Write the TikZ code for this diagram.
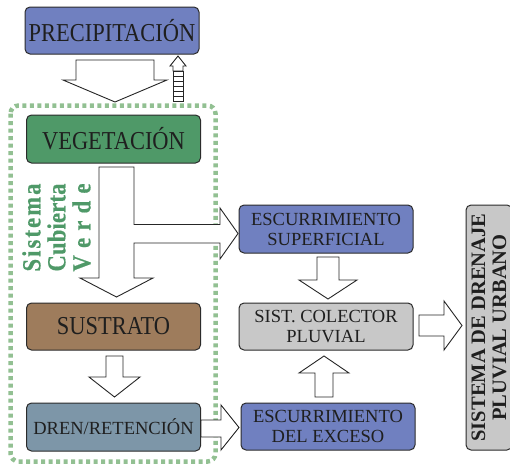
\documentclass[tikz,border=0pt]{standalone}
\usepackage{fontspec}
\setmainfont{Liberation Serif}
\newfontfamily\tallserif{Liberation Serif}[FakeStretch=0.87]
\newfontfamily\cvserif{Liberation Serif}[FakeStretch=0.87,FakeBold=0.6]
\usetikzlibrary{calc}
\definecolor{RainBlue}{HTML}{7080C0}
\definecolor{LeafGreen}{HTML}{4F9968}
\definecolor{SoilBrown}{HTML}{9E7C5C}
\definecolor{DrainGray}{HTML}{7D96A8}
\definecolor{PipeGray}{HTML}{C8C8C8}
\definecolor{RoofGreen}{HTML}{92C092}
\definecolor{InkDark}{HTML}{2B2B2B}
\newcommand{\cvline}[1]{\hbox to 88pt{#1}}
\tikzset{
  layerbox/.style={draw=InkDark,line width=1pt,rounded corners=5pt,minimum width=174pt,minimum height=47pt,inner sep=0pt,align=center,text=black!88},
  bigfont/.style={font=\tallserif\fontsize{25.8}{28}\selectfont},
  smallfont/.style={font=\fontsize{18.5}{20}\selectfont},
  hollowarrow/.style={draw=black!85,fill=white,line width=0.9pt,line join=miter},
  roofframe/.style={draw=RoofGreen,line width=4.5pt,dash pattern=on 4pt off 3.5pt,rounded corners=8pt}
}
\begin{document}
\begin{tikzpicture}[x=1pt,y=-1pt]
\useasboundingbox (0,0) rectangle (510,466);
% marco del sistema cubierta verde
\draw[roofframe] (10.5,105.5) rectangle (215.5,461.5);
% capas
\node[layerbox,bigfont,fill=RainBlue] (prec) at (112,30.5) {PRECIPITACIÓN};
\node[layerbox,bigfont,fill=LeafGreen,minimum height=48pt] (veg) at (113.5,139) {VEGETACIÓN};
\node[layerbox,bigfont,fill=SoilBrown] (sus) at (113.5,326.5) {SUSTRATO};
\node[layerbox,smallfont,fill=DrainGray,minimum height=48pt] (dren) at (113.5,427) {DREN/RETENCIÓN};
\node[layerbox,smallfont,fill=RainBlue,minimum height=48pt] (essup) at (326,229) {ESCURRIMIENTO\\SUPERFICIAL};
\node[layerbox,smallfont,fill=PipeGray] (col) at (326,326.5) {SIST. COLECTOR\\PLUVIAL};
\node[layerbox,smallfont,fill=RainBlue] (esexc) at (328,426.5) {ESCURRIMIENTO\\DEL EXCESO};
\node[layerbox,fill=PipeGray,rotate=90,minimum width=245pt,minimum height=46pt,font=\bfseries\fontsize{20.5}{21}\selectfont] (sdu) at (489,327.5) {SISTEMA DE DRENAJE\\PLUVIAL URBANO};
% rotulo vertical
\node[rotate=90,text=LeafGreen,align=center,inner sep=0pt,font=\cvserif\bfseries\fontsize{26}{25}\selectfont] (cvlabel) at (56.5,227.5)
  {\cvline{S\hfil i\hfil s\hfil t\hfil e\hfil m\hfil a}\\\cvline{C\hfil u\hfil b\hfil i\hfil e\hfil r\hfil t\hfil a}\\\cvline{V\hfil e\hfil r\hfil d\hfil e}};
% flechas huecas
\draw[hollowarrow] (76,60) -- (154,60) -- (154,80) -- (167,80) -- (115,102) -- (63,80) -- (76,80) -- cycle;
\draw[hollowarrow] (170,66) -- (178,56) -- (186,66) -- (183,66) -- (183,71) -- (173,71) -- (173,66) -- cycle;
\foreach \k in {0,...,5}
  \draw[hollowarrow,line width=0.7pt] (173,71+5*\k) rectangle ++(10,5);
\draw[hollowarrow] (99,167) -- (134,167) -- (134,224.5) -- (220,224.5) -- (220,208) -- (238,233.5) -- (220,259) -- (220,243) -- (134,243) -- (134,278) -- (153,278) -- (116.5,297) -- (80,278) -- (99,278) -- cycle;
\draw[hollowarrow] (106,356) -- (123,356) -- (123,377) -- (140,377) -- (114.5,397) -- (89,377) -- (106,377) -- cycle;
\draw[hollowarrow] (201,420) -- (221,420) -- (221,405) -- (239,427.5) -- (221,450) -- (221,437) -- (201,437) -- cycle;
\draw[hollowarrow] (317,257) -- (339,257) -- (339,280) -- (357,280) -- (328,299) -- (299,280) -- (317,280) -- cycle;
\draw[hollowarrow] (315,397) -- (333,397) -- (333,373) -- (349,373) -- (324,356) -- (299,373) -- (315,373) -- cycle;
\draw[hollowarrow] (419,315) -- (444,315) -- (444,301) -- (462,325.5) -- (444,350) -- (444,336) -- (419,336) -- cycle;
\end{tikzpicture}
\end{document}
